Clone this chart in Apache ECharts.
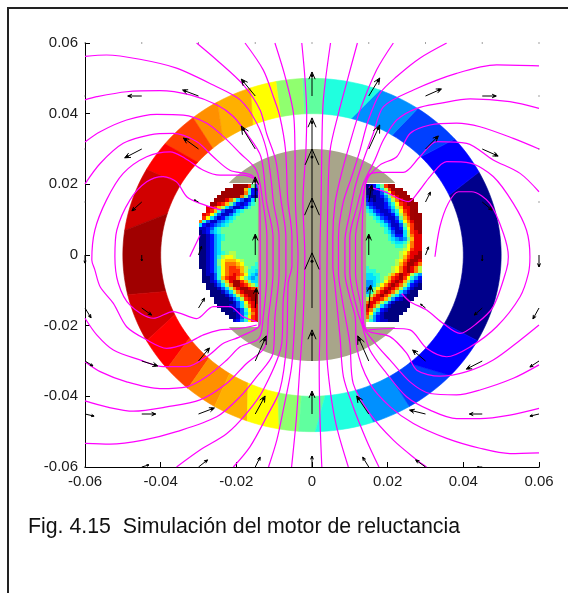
<!DOCTYPE html>
<html>
<head>
<meta charset="utf-8">
<style>
  html, body { margin: 0; padding: 0; background: #fff; }
  #main { width: 568px; height: 593px; }
</style>
<script src="https://cdn.jsdelivr.net/npm/echarts@6/dist/echarts.min.js"></script>
</head>
<body>
<div id="main"></div>
<script>
// all geometry below is in mm, the axes are in metres
const tickValues = [-0.06, -0.04, -0.02, 0, 0.02, 0.04, 0.06];
const caption = 'Fig. 4.15  Simulación del motor de reluctancia';

// stator ring, band edges in degrees on the outer and inner radius
const ringRadii = [40, 50];
const ringOuter = [-29, 28, 41, 56, 69, 86, 93, 101, 109, 120, 129, 141, 151, 172, 193, 209, 220, 229, 239, 250, 260, 266, 271, 289, 301, 317, 331];
const ringInner = [-29, 25, 44, 58, 75, 86, 93, 102, 113, 126, 131, 139, 150, 163, 195, 205, 216, 227, 237, 245, 257, 266, 275, 287, 301, 310, 331];
const ringValues = [0.011, 0.125, 0.1875, 0.266, 0.406, 0.469, 0.516, 0.625, 0.7025, 0.734, 0.8125, 0.875, 0.92, 0.968, 0.92, 0.875, 0.8125, 0.734, 0.7025, 0.625, 0.516, 0.469, 0.406, 0.266, 0.1875, 0.125];

// rotor: radius, half width of the bar, height of the caps
const rotorShape = { radius: 30, barHalf: 14.3, capY: 20.4 };

// rotor slots, one char per 1 mm cell, 0..f is the colour level, top row is y = 19.5
const slotLeft = [
  '.........ffffc73',
  '.......fffffa620',
  '......ffffffb621',
  '.....fffffeb7310',
  '....feedb8531257',
  '...eedca74212467',
  '..ddca8531124677',
  '..dca63113567777',
  '.dc9631135677777',
  '.c95312456777777',
  'b631134567777777',
  '5212345677777777',
  '1123567777777777',
  '0124567777777777',
  '0012456777777777',
  '0012456777777777',
  '0012457777777777',
  '0012457777777777',
  '0012457777777777',
  '0012456788777777',
  '0012468998777777',
  '0012479aaa987777',
  '0012479bbba97776',
  '0012469bccba8766',
  '.012469bccca8665',
  '.011369bcdcb9654',
  '.00136acddb97545',
  '.001247adeeca755',
  '..001358beedca86',
  '..0001358bdeedcb',
  '...0001358bdeeed',
  '...00001358bdeee',
  '....00001358cdee',
  '....000001359cde',
  '.....00011358bdd',
  '......00011369cd',
  '.......0001358bd',
  '........001369cd',
  '.........12469cd'
];
const slotRight = [
  '01257cee........',
  '001258ceee......',
  '0011369deee.....',
  '1001247adeee....',
  '21011358bdeee...',
  '321112469cdeee..',
  '532112358addee..',
  '6532112469cdef..',
  '7653211258bdeff.',
  '7765321137aceff.',
  '77765321259bdff.',
  '77776531137acef.',
  '777776421269cef.',
  '777776531158cde.',
  '777777642258bdd.',
  '777777654347add.',
  '777777765568bdd.',
  '777777776679bdd.',
  '777777777789cdd.',
  '77777777789bdde.',
  '7777777778acdee.',
  '7777777789bdeed.',
  '777777778aceedb.',
  '677777789bdedb8.',
  '666777789bdedb8.',
  '5566778acedc864.',
  '555678acdec9642.',
  '445679bdeda7421.',
  '44579bdedb85210.',
  '3579bdedb853100.',
  '468bdedb853100..',
  '68bdeca7531000..',
  '8bddca7421000...',
  'bddb86310000....',
  'ddb853100000....',
  'db752100000.....',
  'c953100000......',
  'b74210000.......',
  '864211000.......'
];

// flux lines, [x, y] in mm
const fluxLines = [
  [[4.9,60],[3,43.9],[2.6,29.7],[2.4,15],[2.1,0],[2.2,-17.5],[1.9,-31.6],[2.1,-45.8],[2.6,-60]],
  [[12,60],[9.6,50.5],[7,40.1],[4.8,29.7],[4.2,15],[4,0],[3.9,-12],[3.9,-26.9],[4.8,-38.2],[6.5,-48.6],[9.6,-60]],
  [[21.5,60],[17.1,52.4],[12.7,41],[10,31.6],[7.8,23.1],[6.1,14.7],[5.5,5],[5.5,-3],[6,-8],[7.4,-23.1],[8.3,-34.4],[10.9,-43],[14.4,-52.4],[17.7,-60]],
  [[35.6,60],[28.5,55.7],[22.4,50.5],[18,45.8],[14.9,38.2],[12.7,29.7],[10.5,22.2],[8.2,14.7],[7,5],[7,-5],[8,-12.7],[10,-25],[10.9,-36.4],[15.3,-44.9],[21.5,-52.4],[27.7,-58],[30.3,-60]],
  [[60,53.5],[48.8,53.8],[38.2,51.4],[26.8,46.7],[18.9,42],[16.2,34.4],[13.6,26.9],[11.4,19.3],[10,11.8],[8.7,4],[8.7,-5],[10,-12],[11.4,-17.5],[11.8,-26],[15.3,-36.4],[20.6,-42.9],[26.8,-47.7],[35.6,-51.9],[44.4,-54.7],[52.3,-56.2],[60,-56]],
  [[60,41.5],[52.3,43.4],[41.8,44.2],[33.8,42.9],[27.7,41.5],[22.4,38.2],[18.9,32.6],[16.6,26.9],[13.6,20.3],[11.9,13.7],[10,5],[10,-5],[12.2,-16.5],[13.1,-19.3],[15.3,-26.9],[19.7,-33.5],[25,-40.1],[31.2,-43.9],[38.2,-46.3],[44.4,-46.3],[52.3,-45.3],[60,-43.4]],
  [[60,30],[53.2,33],[44.4,36.3],[38.2,37.3],[31.2,36.8],[25.9,34.4],[22.4,27.8],[18,25.5],[14.5,21.2],[13,13.7],[11.5,5],[11.5,-5],[13,-15],[13.6,-20.3],[17.1,-25.5],[20.6,-29.7],[25.9,-35.9],[31.2,-39.2],[38.2,-39.6],[44.4,-38.2],[53.2,-34.9],[60,-31.1]],
  [[60,17.9],[55,23.1],[47.9,26.9],[40.9,31.6],[33,32.1],[28.5,27.8],[24.1,23.4],[18,23.4],[14.9,22.6],[13.6,15.6],[13.2,0],[13.6,-18.9],[14.9,-21.6],[20.6,-23.1],[25,-27.8],[27.7,-32.6],[33.8,-34.3],[40.9,-33],[47.9,-29.7],[55,-24.1],[60,-19.8]],
  [[15,19.2],[19,18],[25.5,15.1],[28.5,18.4],[31.2,22.2],[35.6,26.4],[41.8,26],[47.9,22.2],[53.2,14.6],[56.7,7],[57.6,-0.5],[57.2,-5.2],[55,-11.8],[48.8,-20.3],[41.8,-26],[35.6,-28.8],[30.3,-26.4],[25.9,-21.2],[21.5,-20.8],[14.9,-21.2]],
  [[32.5,-0.5],[33.8,8],[36,14.6],[38.7,17.9],[42.2,17.9],[47,14.6],[50.6,6.1],[51.9,-0.5],[51.4,-4.2],[47.9,-14.6],[43.5,-19.4],[39.1,-22.2],[34.7,-19.4],[30.3,-15.6],[25.9,-13.2],[23.7,-10.9]],
  [[-2.7,60],[-1.9,50.5],[-1.4,40.1],[-1.6,29.7],[-2.4,15],[-1.9,0],[-2.3,-17.5],[-3.2,-31.6],[-4.1,-45.8],[-5.4,-60]],
  [[-9.8,60],[-7.1,50.5],[-4.9,40.1],[-4.5,29.7],[-4.4,15],[-3.7,0],[-4.5,-17.5],[-5.4,-31.6],[-7.6,-43.9],[-9.3,-52.4],[-11.5,-60]],
  [[-17.7,60],[-12.9,52.4],[-10.2,44.8],[-8.5,39.2],[-7,29.7],[-6.4,15.6],[-5.3,5],[-5.3,-3],[-6.3,-8],[-6.7,-25],[-8.5,-38.2],[-12,-45.8],[-16.4,-54.3],[-20.8,-60]],
  [[-30.5,60],[-25.2,55.2],[-18.1,48.1],[-13.7,41],[-12,34.4],[-9.6,26.9],[-8.2,15.6],[-6.9,5],[-6.9,-5],[-7.6,-12.7],[-8,-25],[-12.9,-38.2],[-17.3,-44.8],[-22.5,-50.5],[-29.6,-55.2],[-35.8,-60]],
  [[-60,56.2],[-54.3,56.6],[-45.5,55.4],[-35.8,52.9],[-26.1,48.1],[-19,43.9],[-14.6,37.3],[-12,29.7],[-10.8,21.2],[-10.2,15],[-8.7,5],[-8.7,-5],[-9.8,-17.5],[-10.3,-27.8],[-14.6,-34.4],[-19,-40.1],[-25.2,-45.8],[-35.8,-50],[-44.6,-52.4],[-53.4,-53.5],[-60,-53.3]],
  [[-60,43.9],[-56.9,44.8],[-49,46.2],[-40.2,46.5],[-32.2,45.3],[-25.2,42.5],[-20.8,39.2],[-17.3,34.4],[-13.5,27.8],[-12,15],[-10.3,5],[-10.3,-5],[-11.5,-17.5],[-12.4,-26],[-17.3,-30.7],[-22.5,-36.3],[-29.6,-41],[-38.4,-43],[-47.2,-44.2],[-54.3,-43],[-60,-41.3]],
  [[-60,32],[-56,34.9],[-49,38.2],[-41.1,39.8],[-34,39.6],[-27.8,37.3],[-23.4,33.5],[-19,28.8],[-14.7,24],[-13,15],[-11.9,5],[-11.9,-5],[-12.9,-17.5],[-14,-23.6],[-19,-26],[-22.5,-29.7],[-27.8,-34.4],[-33.1,-37.3],[-40.2,-37.8],[-49,-35.9],[-56,-33],[-60,-30.2]],
  [[-60,20.1],[-56,25.9],[-49.9,31.6],[-42.8,34],[-36.7,34.4],[-30.5,32.1],[-26.1,27.8],[-21.7,24],[-15.5,22.2],[-13.8,15],[-13.7,0],[-13.7,-19.3],[-19,-23.1],[-23.4,-25],[-27.8,-28.8],[-33.1,-31.6],[-39.3,-31.6],[-45.5,-29.7],[-52.5,-26.9],[-56.9,-22.6],[-60,-17.9]],
  [[-14.8,21.4],[-18.2,22.6],[-24.3,22.6],[-28.7,24],[-33.6,27.4],[-37.5,29.2],[-43.7,27.8],[-49.9,23.1],[-54.3,15.6],[-57.4,7],[-58.2,-1.4],[-57.4,-4.2],[-56,-9],[-52.5,-13.7],[-49,-20.3],[-43.7,-24],[-38.4,-26.4],[-33.1,-25],[-28.7,-22.6],[-24.3,-21.2],[-19,-20.8],[-14.6,-19.8]],
  [[-23.9,12.7],[-29.6,14.6],[-33.1,16.5],[-35.8,20.7],[-39.3,22.2],[-43.7,20.7],[-48.1,15.6],[-51.6,7],[-52.1,-0.5],[-51.2,-8],[-48.1,-14.2],[-41.9,-17.9],[-36.7,-16],[-30.5,-18],[-26.1,-14.6],[-21.7,-14.6],[-18.2,-17.5],[-14.6,-18.9]],
  [[-32.3,-0.5],[-29.6,5.6]]
];

// quiver field on a 15 mm grid, rows from y = 60 down to y = -60
const quiverGrid = [-60, -45, -30, -15, 0, 15, 30, 45, 60];
const quiverU = [
  [0, 0, 0, 0, 0, 0, 0, 0, 0],
  [0, -3.7, -4.2, -3.7, 0, 2.9, 4.2, 3.7, 0],
  [0, -4.5, -4, -3.7, 0, 2.9, 3.4, 4.2, 0],
  [0, -2.6, -1.1, 0, 0, 0.8, 1.3, 2.6, 0],
  [0, 0, 0.8, 0, 0, 0, 0.8, 0, 0],
  [1.6, 2.6, 1.6, 0.3, 0, 0.5, -1.3, -2.1, -1.6],
  [2.1, 4.2, 2.9, 2.9, 0, -2.9, -3.4, -4.2, -2.4],
  [2.4, 3.7, 4.2, 2.6, 0, -3.2, -4.2, -3.4, -2.4],
  [0, 1.9, 2.4, 1.3, 0, -1.6, -2.6, -1.3, 0]
];
const quiverV = [
  [0, 0, 0, 0, 0, 0, 0, 0, 0],
  [0, 0, 1.7, 4.8, 6.8, 5.1, 2, 0, 0],
  [0, -2.5, 3.1, 6.5, 8.8, 6.8, 3.7, -2, 0],
  [0, -2.5, 0.6, 7.1, 15, 4.8, 2.8, -2.3, 0],
  [-2.3, -1.7, 2.5, 5.9, 16.1, 5.9, 2.3, -1.7, -3.4],
  [-2.8, -2, 2.8, 5.7, 15.6, 6.5, 1.1, -2, -3.1],
  [-1.4, -1.4, 3.7, 7.1, 8.8, 7.1, 3.1, -2.3, -1.7],
  [-0.6, 0, 1.7, 5.1, 6.5, 5.1, 1.1, 0, -0.6],
  [0, 0.6, 2, 2.8, 3.1, 2.8, 2, 0, 0]
];

function jet(v) {
  let c = x => Math.round(255 * Math.max(0, Math.min(1, x)));
  let r = Math.min(4 * v - 1.5, 4.5 - 4 * v);
  let g = Math.min(4 * v - 0.5, 3.5 - 4 * v);
  let b = Math.min(4 * v + 0.5, 2.5 - 4 * v);
  return `rgb(${c(r)},${c(g)},${c(b)})`;
}

function slotCells(rows, xStart) {
  let cells = [];
  rows.forEach((row, i) => {
    for (let j = 0; j < row.length; j++) {
      if (row[j] === '.') continue;
      cells.push([xStart + j, 19.5 - i, Math.min(0.97, parseInt(row[j], 16) / 14.5)]);
    }
  });
  return cells;
}

const mm = v => v / 1000;

function arcPoints(api, radius, from, to) {
  let pts = [];
  let n = Math.max(2, Math.ceil(Math.abs(to - from) / 2));
  for (let k = 0; k <= n; k++) {
    let a = (from + (to - from) * k / n) * Math.PI / 180;
    pts.push(api.coord([mm(radius * Math.cos(a)), mm(radius * Math.sin(a))]));
  }
  return pts;
}

function renderRing(params, api) {
  let i = api.value(0);
  let pts = arcPoints(api, ringRadii[1], ringOuter[i], ringOuter[i + 1])
    .concat(arcPoints(api, ringRadii[0], ringInner[i + 1], ringInner[i]));
  let color = jet(ringValues[i]);
  return { type: 'polygon', shape: { points: pts }, style: { fill: color, stroke: color, lineWidth: 0.6 } };
}

function renderCell(params, api) {
  let a = api.coord([mm(api.value(0)), mm(api.value(1) + 0.5)]);
  let b = api.coord([mm(api.value(0) + 1), mm(api.value(1) - 0.5)]);
  let x = Math.round(a[0]), y = Math.round(a[1]);
  return {
    type: 'rect',
    shape: { x: x, y: y, width: Math.round(b[0]) - x, height: Math.round(b[1]) - y },
    style: { fill: jet(api.value(2)) }
  };
}

function renderRotor(params, api) {
  let { radius, barHalf, capY } = rotorShape;
  let capAngle = Math.asin(capY / radius) * 180 / Math.PI;
  let toPx = p => api.coord([mm(p[0]), mm(p[1])]);
  let pts = arcPoints(api, radius, capAngle, 180 - capAngle)
    .concat([[-barHalf, capY], [-barHalf, -capY]].map(toPx))
    .concat(arcPoints(api, radius, 180 + capAngle, 360 - capAngle))
    .concat([[barHalf, -capY], [barHalf, capY]].map(toPx));
  return { type: 'polygon', shape: { points: pts }, style: { fill: '#a8a58a' } };
}

function renderArrow(params, api) {
  let x = api.value(0), y = api.value(1), u = api.value(2), v = api.value(3);
  let tail = api.coord([mm(x), mm(y)]);
  let tip = api.coord([mm(x + u), mm(y + v)]);
  let dx = tip[0] - tail[0], dy = tip[1] - tail[1];
  let len = Math.sqrt(dx * dx + dy * dy);
  if (len < 1) {
    return { type: 'rect', shape: { x: tail[0] - 0.5, y: tail[1] - 0.5, width: 1, height: 1 }, style: { fill: '#444' } };
  }
  let bx = tip[0] - dx * 0.3, by = tip[1] - dy * 0.3;
  let nx = -dy * 0.13, ny = dx * 0.13;
  return {
    type: 'group',
    children: [
      { type: 'line', shape: { x1: tail[0], y1: tail[1], x2: tip[0], y2: tip[1] }, style: { stroke: '#000', lineWidth: 1 } },
      { type: 'polyline', shape: { points: [[bx + nx, by + ny], tip, [bx - nx, by - ny]] }, style: { stroke: '#000', fill: null, lineWidth: 1 } },
      { type: 'circle', shape: { cx: bx + dx * 0.15, cy: by + dy * 0.15, r: Math.min(1.5, len * 0.08) }, style: { fill: '#000' } }
    ]
  };
}

let quiverData = [];
quiverGrid.slice().reverse().forEach((y, i) => {
  quiverGrid.forEach((x, j) => {
    quiverData.push([x, y, quiverU[i][j], quiverV[i][j]]);
  });
});

const axisFont = { color: '#1a1a1a', fontFamily: 'Liberation Sans', fontSize: 15 };

function makeAxis(margin) {
  return {
    type: 'value',
    min: -0.06,
    max: 0.06,
    interval: 0.02,
    splitLine: { show: false },
    axisLine: { onZero: false, lineStyle: { color: '#000', width: 1 } },
    axisTick: { inside: true, length: 5, lineStyle: { color: '#000' } },
    axisLabel: Object.assign({ margin: margin, showMinLabel: true, showMaxLabel: true, hideOverlap: false,
      formatter: v => String(tickValues.reduce((a, b) => Math.abs(b - v) < Math.abs(a - v) ? b : a)) }, axisFont)
  };
}

let series = [
  { type: 'custom', renderItem: renderRing, data: ringValues.map((v, i) => [i]), z: 2, silent: true },
  { type: 'custom', renderItem: renderCell, data: slotCells(slotLeft, -30).concat(slotCells(slotRight, 14)), z: 3, silent: true },
  { type: 'custom', renderItem: renderRotor, data: [[0]], z: 4, silent: true }
];
fluxLines.forEach(line => {
  series.push({
    type: 'line',
    data: line.map(p => [mm(p[0]), mm(p[1])]),
    smooth: 0.3,
    showSymbol: false,
    lineStyle: { color: '#ff00ff', width: 1.2 },
    z: 5,
    silent: true
  });
});
series.push({ type: 'custom', renderItem: renderArrow, data: quiverData, clip: false, z: 6, silent: true });

const chart = echarts.init(document.getElementById('main'), null, { renderer: 'canvas' });
chart.setOption({
  animation: false,
  backgroundColor: '#fff',
  grid: { left: 85, right: 29, top: 43, bottom: 126 },
  xAxis: makeAxis(7),
  yAxis: makeAxis(7),
  series: series,
  title: {
    text: caption,
    left: 23,
    top: 512,
    textStyle: { color: '#111', fontFamily: 'Liberation Sans', fontSize: 21.3, fontWeight: 'normal' }
  },
  graphic: [
    {
      type: 'polyline',
      shape: { points: [[8, 593], [8, 8], [568, 8]] },
      style: { stroke: '#222', lineWidth: 2, fill: null }
    }
  ]
});
</script>
</body>
</html>
